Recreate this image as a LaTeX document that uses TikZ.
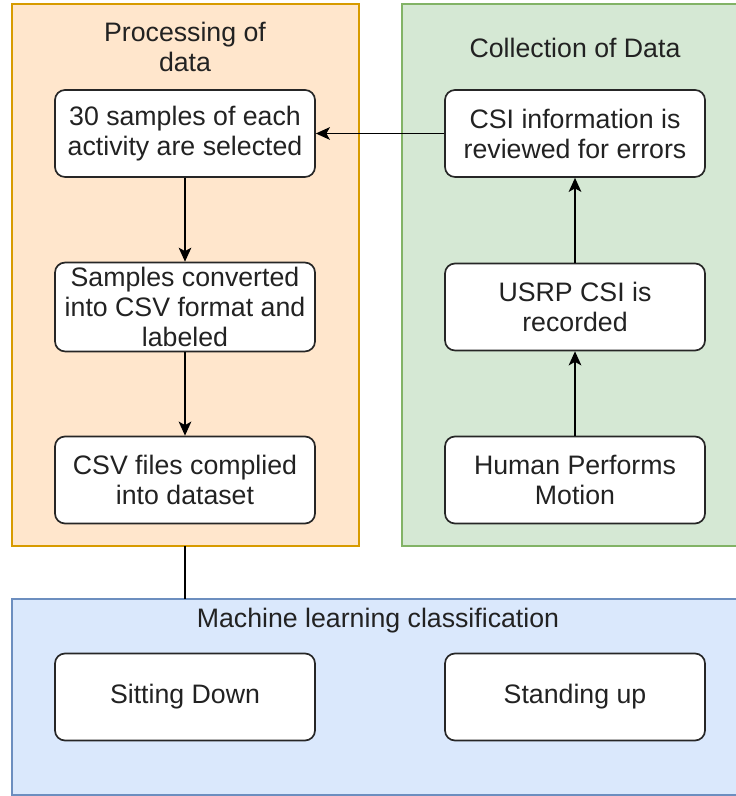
\documentclass[tikz,border=0pt]{standalone}
\usepackage{fontspec}
\setmainfont{Liberation Sans}
\usetikzlibrary{arrows.meta}
\definecolor{procfill}{HTML}{FFE6CC}
\definecolor{procline}{HTML}{D79B00}
\definecolor{collfill}{HTML}{D5E8D4}
\definecolor{collline}{HTML}{82B366}
\definecolor{mlfill}{HTML}{DAE8FC}
\definecolor{mlline}{HTML}{6C8EBF}
\definecolor{txt}{HTML}{222222}
\tikzset{
  stepbox/.style={draw=black!85, fill=white, line width=1.2pt, rounded corners=0.25cm,
    minimum width=6.5cm, minimum height=2.175cm, align=center,
    font=\fontsize{19}{21.3}\selectfont, text=txt},
  grouptitle/.style={align=center, font=\fontsize{19}{21.3}\selectfont, text=txt},
  flow/.style={line width=1.2pt, -{Stealth[length=10pt,width=9pt,inset=2.5pt]}}
}
\begin{document}
\begin{tikzpicture}
\useasboundingbox (0,0) rectangle (18.4,19.9);
% the three groups
\draw[fill=procfill, draw=procline, line width=1pt] (0.3,6.25) rectangle (8.975,19.8);
\draw[fill=collfill, draw=collline, line width=1pt] (10.05,6.25) rectangle (18.6,19.8);
\draw[fill=mlfill, draw=mlline, line width=1pt] (0.3,0.025) rectangle (18.6,4.925);
\coordinate (procbottom) at (4.625,6.25);
\coordinate (mltop) at (4.625,4.925);
\node[grouptitle] (proctitle) at (4.625,18.725) {Processing of\\data};
\node[grouptitle] (colltitle) at (14.375,18.7) {Collection of Data};
\node[grouptitle] (mltitle) at (9.45,4.375) {Machine learning classification};
% processing steps
\node[stepbox] (select) at (4.625,16.5625) {30 samples of each\\activity are selected};
\node[stepbox] (convert) at (4.625,12.225) {Samples converted\\into CSV format and\\labeled};
\node[stepbox] (compile) at (4.625,7.9) {CSV files complied\\into dataset};
% collection steps
\node[stepbox] (review) at (14.375,16.5625) {CSI information is\\reviewed for errors};
\node[stepbox] (record) at (14.375,12.225) {USRP CSI is\\recorded};
\node[stepbox] (motion) at (14.375,7.9) {Human Performs\\Motion};
% classes
\node[stepbox] (sitting) at (4.625,2.475) {Sitting Down};
\node[stepbox] (standing) at (14.375,2.475) {Standing up};
% connectors
\draw[flow] (select) -- (convert);
\draw[flow] (convert) -- (compile);
\draw[flow] (motion) -- (record);
\draw[flow] (record) -- (review);
\draw[flow] (review) -- (select);
\draw[line width=1.2pt] (procbottom) -- (mltop);
\end{tikzpicture}
\end{document}
